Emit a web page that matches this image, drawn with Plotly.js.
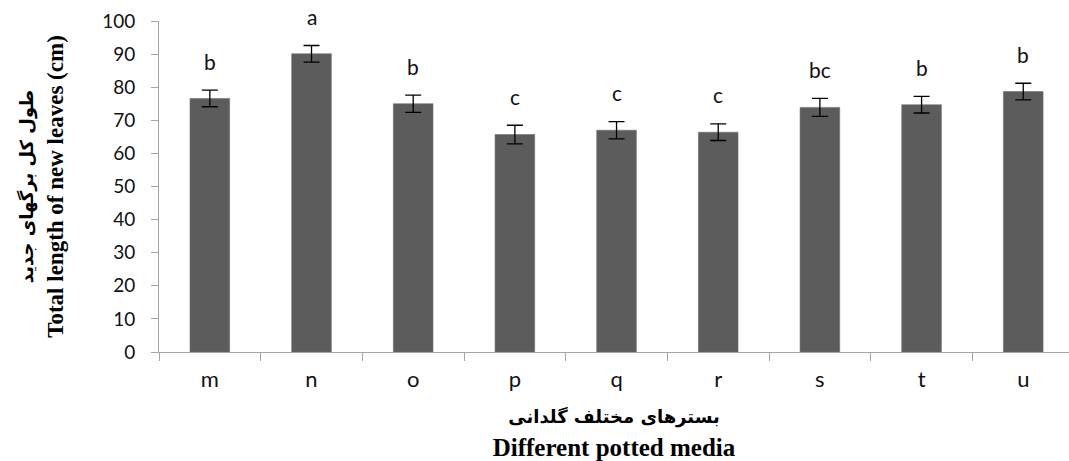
<!DOCTYPE html>
<html>
<head>
<meta charset="utf-8">
<script src="https://cdn.plot.ly/plotly-3.0.1.min.js"></script>
<style>html,body{margin:0;padding:0;background:#fff;}#chart{width:1069px;height:461px;}</style>
</head>
<body>
<div id="chart"></div>
<script>
const categories = ["m","n","o","p","q","r","s","t","u"];
const values = [76.6, 90.1, 75.0, 65.7, 67.0, 66.4, 73.9, 74.7, 78.7];
const errors = [2.5, 2.5, 2.6, 2.8, 2.6, 2.5, 2.7, 2.5, 2.5];
const letters = ["b","a","b","c","c","c","bc","b","b"];

const Y_MAX = 100;

const trace = {
  type: "bar",
  x: categories,
  y: values,
  width: 0.39,
  marker: {color: "#5c5c5c", line: {color: "#6e6e6e", width: 0.6}},
  error_y: {type: "data", array: errors, visible: true, color: "#000", thickness: 1.3, width: 8},
  hoverinfo: "skip"
};

const annotations = categories.map((c, i) => ({
  x: c, y: (values[i] + errors[i] + 8.8) / Y_MAX, xref: "x", yref: "paper",
  text: letters[i], showarrow: false, yanchor: "middle",
  font: {family: "Lato, 'Open Sans', sans-serif", size: 21, color: "#111"}
}));

const layout = {
  width: 1069, height: 461,
  margin: {l: 159, r: 0, t: 21, b: 109},
  paper_bgcolor: "#fff", plot_bgcolor: "#fff",
  showlegend: false,
  bargap: 0.6,
  xaxis: {
    type: "category",
    range: [-0.5, 8.45],
    tickson: "boundaries",
    ticks: "outside", ticklen: 8, tickcolor: "#a6a6a6", tickwidth: 1,
    showline: true, linecolor: "#a6a6a6", linewidth: 1,
    showgrid: false, zeroline: false,
    tickfont: {family: "Lato, 'Open Sans', sans-serif", size: 22, color: "#111"},
    ticklabelstandoff: 8,
    title: {
      text: "<span style='font-family:DejaVu Sans;font-size:18px'><b>بسترهای مختلف گلدانی</b></span><br><b>Different potted media</b>",
      font: {family: "'Liberation Serif', 'Times New Roman', serif", size: 25, color: "#000"},
      standoff: 17
    }
  },
  yaxis: {
    range: [0, Y_MAX],
    tickvals: [0,10,20,30,40,50,60,70,80,90,100],
    ticks: "outside", ticklen: 7, tickcolor: "#a6a6a6", tickwidth: 1,
    showline: true, linecolor: "#a6a6a6", linewidth: 1,
    showgrid: false, zeroline: false,
    tickfont: {family: "Lato, 'Open Sans', sans-serif", size: 19, color: "#111"},
    ticklabelstandoff: 12,
    title: {
      text: "<span style='font-family:DejaVu Sans;font-size:18px'><b>طول کل برگهای جدید</b></span><br><b>Total length of new leaves (cm)</b>",
      font: {family: "'Liberation Serif', 'Times New Roman', serif", size: 23, color: "#000"},
      standoff: 32
    }
  },
  annotations: annotations
};

Plotly.newPlot("chart", [trace], layout, {displayModeBar: false, staticPlot: true});
</script>
</body>
</html>
